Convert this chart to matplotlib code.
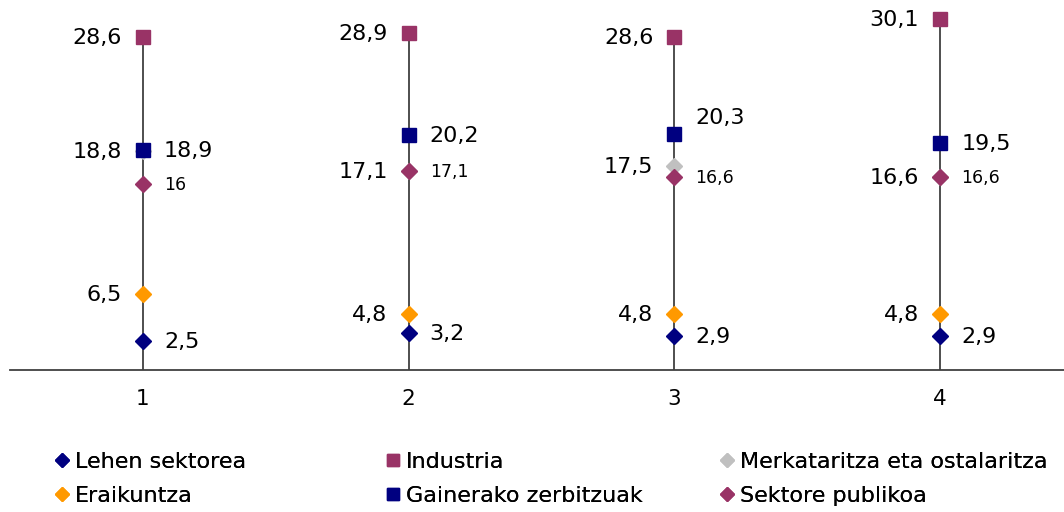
import matplotlib
matplotlib.use("Agg")
import matplotlib.pyplot as plt
from matplotlib.lines import Line2D

plt.rcParams['font.family'] = ['DejaVu Sans']

categories = ["1", "2", "3", "4"]
lehen = [2.5, 3.2, 2.9, 2.9]
industria = [28.6, 28.9, 28.6, 30.1]
merkataritza = [18.8, 17.1, 17.5, 16.6]
eraikuntza = [6.5, 4.8, 4.8, 4.8]
gainerako = [18.9, 20.2, 20.3, 19.5]
sektore = [16.0, 17.1, 16.6, 16.6]

names = ["Lehen sektorea", "Industria", "Merkataritza eta ostalaritza",
         "Eraikuntza", "Gainerako zerbitzuak", "Sektore publikoa"]

fig = plt.figure(figsize=(10.64, 5.12), dpi=100)
ax = fig.add_axes([10/1064, 1-370/512, 1063/1064, 370/512])
ax.set_ylim(0, 370/11.65)
ax.set_xlim(0.5, 4.5)

x = list(range(1, len(categories)+1))
series_all = [lehen, industria, merkataritza, eraikuntza, gainerako, sektore]
tops = [max(v) for v in zip(*series_all)]
ax.vlines(x, 0, tops, color='#404040', lw=1.3, zorder=1)

def fmt(v):
    s = f"{v:.1f}".replace('.', ',')
    if s.endswith(',0'):
        s = s[:-2]
    return s

styles = {
    "Merkataritza eta ostalaritza": dict(marker='D', color='#C0C0C0', ms=8.5),
    "Lehen sektorea": dict(marker='D', color='#000080', ms=8.5),
    "Eraikuntza": dict(marker='D', color='#FF9900', ms=8.5),
    "Sektore publikoa": dict(marker='D', color='#993366', ms=8.5),
    "Industria": dict(marker='s', color='#993366', ms=10.5),
    "Gainerako zerbitzuak": dict(marker='s', color='#000080', ms=10.5),
}
data = dict(zip(names, series_all))
label_side = {"Lehen sektorea": 'right', "Industria": 'left',
              "Merkataritza eta ostalaritza": 'left', "Eraikuntza": 'left',
              "Gainerako zerbitzuak": 'right', "Sektore publikoa": 'right'}
label_size = {n: 16 for n in names}
label_size["Sektore publikoa"] = 12.5
extra_dy = {("Gainerako zerbitzuak", 2): 16}

handles = {}
order = ["Merkataritza eta ostalaritza", "Lehen sektorea", "Eraikuntza",
         "Sektore publikoa", "Industria", "Gainerako zerbitzuak"]
for z, n in enumerate(order):
    st = styles[n]
    ax.plot(x, data[n], linestyle='none', marker=st['marker'], color=st['color'],
            ms=st['ms'], mec=st['color'], zorder=3+z)
    handles[n] = Line2D([], [], linestyle='none', marker=st['marker'], color=st['color'],
                        ms=st['ms']*0.85, mec=st['color'])
    for i, v in enumerate(data[n]):
        side = label_side[n]
        dx = -21 if side == 'left' else 21
        dy = extra_dy.get((n, i), 0)
        ax.annotate(fmt(v), (x[i], v), xytext=(dx*0.72, dy*0.72 - 0.7), textcoords='offset points',
                    ha='right' if side == 'left' else 'left', va='center',
                    fontsize=label_size[n], color='black', zorder=10)

for s in ['left', 'right', 'top']:
    ax.spines[s].set_visible(False)
ax.spines['bottom'].set_color('#404040')
ax.spines['bottom'].set_linewidth(1.3)
ax.set_yticks([])
ax.set_xticks(x)
ax.set_xticklabels(categories, fontsize=15.5)
ax.tick_params(axis='x', length=0, pad=14)

legend_cols = [["Lehen sektorea", "Eraikuntza"],
               ["Industria", "Gainerako zerbitzuak"],
               ["Merkataritza eta ostalaritza", "Sektore publikoa"]]
col_x = [54, 385, 719]
for cx, col in zip(col_x, legend_cols):
    lg = fig.legend([handles[n] for n in col], col, loc='upper left',
                    bbox_to_anchor=(cx/1064, 1-451.5/512), frameon=False, fontsize=16,
                    handlelength=0.7, handletextpad=0.25, labelspacing=0.65,
                    borderaxespad=0, borderpad=0)
    fig.add_artist(lg)

fig.savefig("out.png", dpi=100)
